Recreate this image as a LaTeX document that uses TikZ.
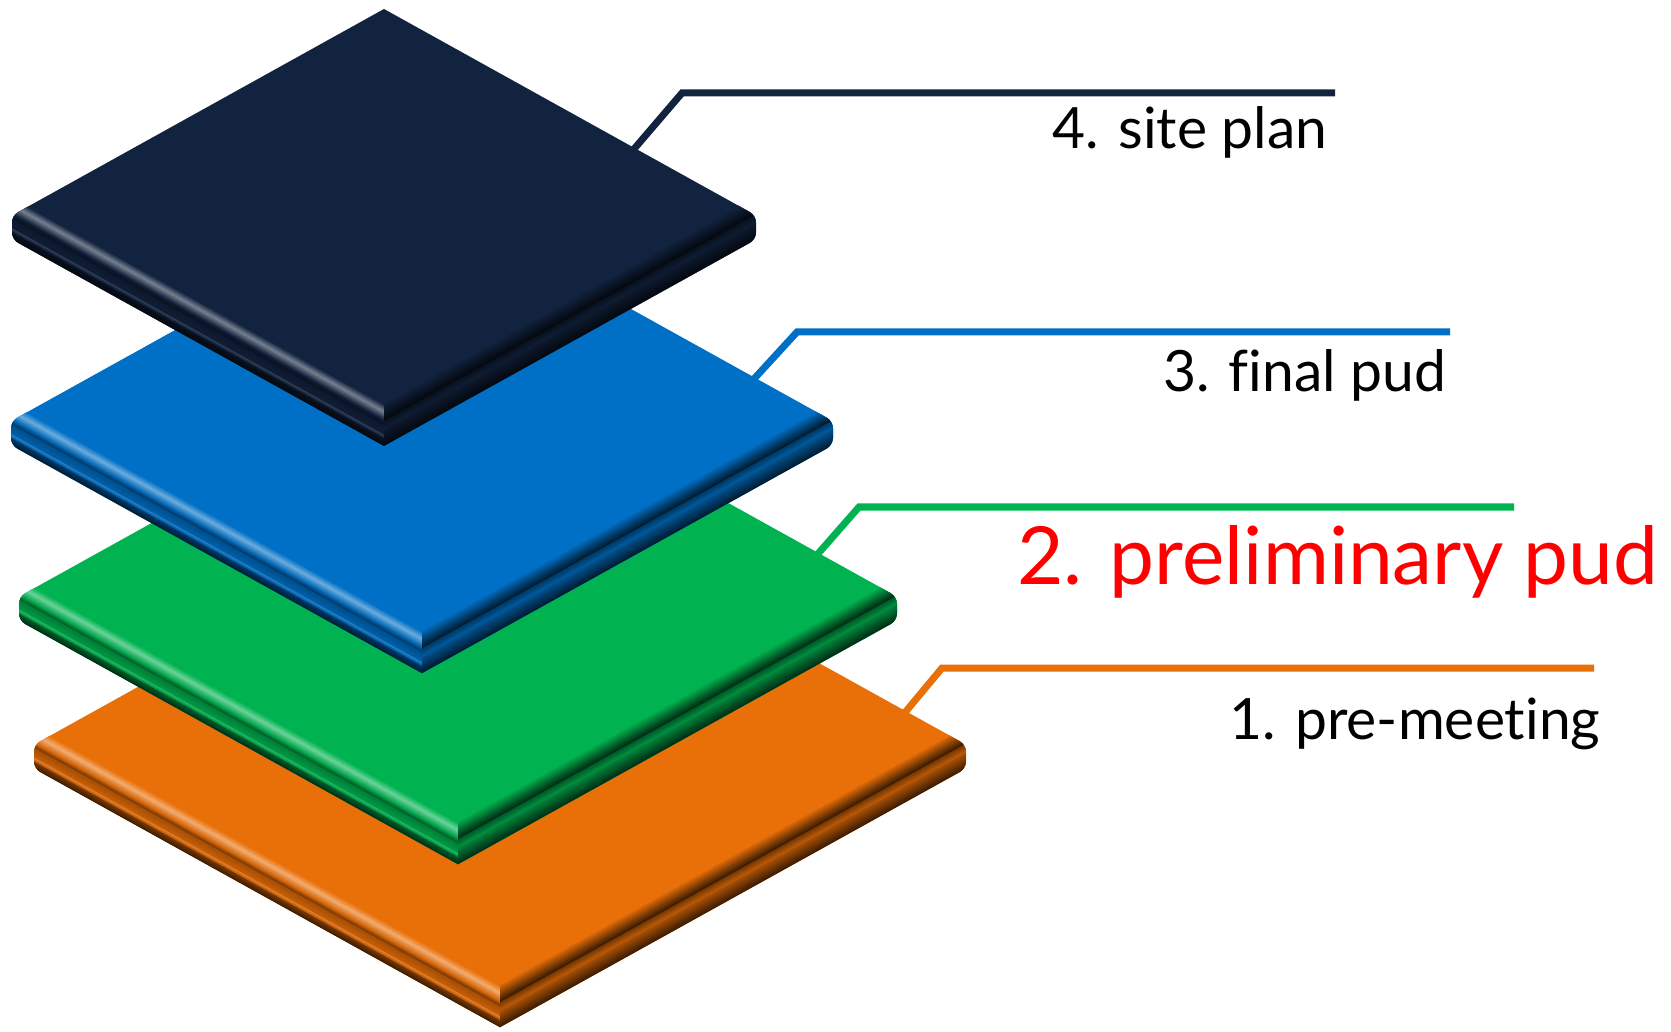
\documentclass[tikz,border=0pt]{standalone}
\usepackage{fontspec}
\setmainfont{Lato}[Ligatures=NoCommon]
\usetikzlibrary{positioning}

\definecolor{navyplate}{HTML}{12233F}
\definecolor{blueplate}{HTML}{0070C6}
\definecolor{greenplate}{HTML}{00B350}
\definecolor{orangeplate}{HTML}{E96F08}
\definecolor{labelred}{HTML}{FF0000}

\tikzset{leader/.style = {line width=0.07cm, line join=miter},
         lbl/.style = {anchor=base east, inner sep=0,
                       font=\fontsize{16.2}{19}\selectfont},
         biglbl/.style = {lbl, text=labelred,
                          font=\fontsize{22.8}{27}\selectfont}}

\newcommand{\pthick}{24}

% one shaded strip along an edge, offsets measured straight down
\newcommand{\band}[6]{%
  \colorlet{bandA}{#5}\colorlet{bandB}{#6}%
  \foreach \i in {0,...,7}{
    \pgfmathsetmacro{\oa}{#3+(#4-#3)*\i/8}
    \pgfmathsetmacro{\ob}{#3+(#4-#3)*(\i+1)/8+0.5}
    \pgfmathtruncatemacro{\mixp}{100-100*\i/7}
    \fill[bandA!\mixp!bandB] ([shift={(0,\oa)}]#1) -- ([shift={(0,\oa)}]#2)
      -- ([shift={(0,\ob)}]#2) -- ([shift={(0,\ob)}]#1) -- cycle;
  }%
}

% #1 name, #2 centre x, #3 top y, #4 half width, #5 colour
\newcommand{\plate}[5]{%
  \pgfmathsetmacro{\ph}{0.555*#4}
  \coordinate (#1-t) at (#2,#3);
  \coordinate (#1-l) at (#2-#4,#3+\ph);
  \coordinate (#1-r) at (#2+#4,#3+\ph);
  \coordinate (#1-b) at (#2,#3+2*\ph);
  \colorlet{pbase}{#5}
  \colorlet{plight}{#5!60!white}
  \colorlet{pdark}{#5!50!black}
  \colorlet{pdeep}{#5!28!black}
  \begin{scope}
    \clip (#1-t) [rounded corners=2pt] -- (#1-r) -- ([shift={(0,\pthick)}]#1-r)
      [sharp corners] -- ([shift={(0,\pthick)}]#1-b)
      [rounded corners=2pt] -- ([shift={(0,\pthick)}]#1-l) -- (#1-l)
      [sharp corners] -- cycle;
    \fill[pbase] (#2-#4-10,#3-10) rectangle (#2+#4+10,#3+2*\ph+\pthick+10);
    % front left edge: highlight on the bevel, then the side
    \band{#1-l}{#1-b}{-18}{-10}{pbase}{plight}
    \band{#1-l}{#1-b}{-10}{-1}{plight}{pbase!90!black}
    \band{#1-l}{#1-b}{-1}{3}{pbase!80!black}{pdark}
    \band{#1-l}{#1-b}{3}{13}{pbase!70!black}{pbase!85!black}
    \band{#1-l}{#1-b}{13}{17}{pbase!85!white}{pbase!80!black}
    \band{#1-l}{#1-b}{17}{\pthick}{pdark}{pdeep}
    % front right edge: shadow on the bevel, then the side
    \band{#1-b}{#1-r}{-20}{-1}{pbase}{pdeep}
    \band{#1-b}{#1-r}{-1}{8}{pdark}{pbase!80!black}
    \band{#1-b}{#1-r}{8}{\pthick}{pbase!70!black}{pdeep}
  \end{scope}
}

\begin{document}
\begin{tikzpicture}[x=0.01cm, y=-0.01cm]
  \useasboundingbox (0,0) rectangle (1671,1031);

  % plates, lowest first
  \plate{pm}{500}{486}{466}{orangeplate}
  \plate{pp}{458}{353}{439}{greenplate}
  \plate{fp}{422}{193}{411}{blueplate}
  \plate{sp}{384}{9}{372}{navyplate}

  % leader lines
  \coordinate (sp-pin) at (634,149);
  \coordinate (sp-bend) at (682,93);
  \coordinate (sp-end) at (1335,93);
  \coordinate (fp-pin) at (753,380);
  \coordinate (fp-bend) at (797,332);
  \coordinate (fp-end) at (1450,332);
  \coordinate (pp-pin) at (816,556);
  \coordinate (pp-bend) at (859,507);
  \coordinate (pp-end) at (1514,507);
  \coordinate (pm-pin) at (902,716);
  \coordinate (pm-bend) at (942,668);
  \coordinate (pm-end) at (1594,668);
  \draw[leader, navyplate] (sp-pin) -- (sp-bend) -- (sp-end);
  \draw[leader, blueplate] (fp-pin) -- (fp-bend) -- (fp-end);
  \draw[leader, greenplate] (pp-pin) -- (pp-bend) -- (pp-end);
  \draw[leader, orangeplate] (pm-pin) -- (pm-bend) -- (pm-end);

  % labels
  \node[lbl] (sp-lbl) at (1328,149) {4. site plan};
  \node[lbl] (fp-lbl) at (1447,392) {3. final pud};
  \node[biglbl] (pp-lbl) at (1659,584) {2. preliminary pud};
  \node[lbl] (pm-lbl) at (1601,739) {1. pre-meeting};
\end{tikzpicture}
\end{document}
